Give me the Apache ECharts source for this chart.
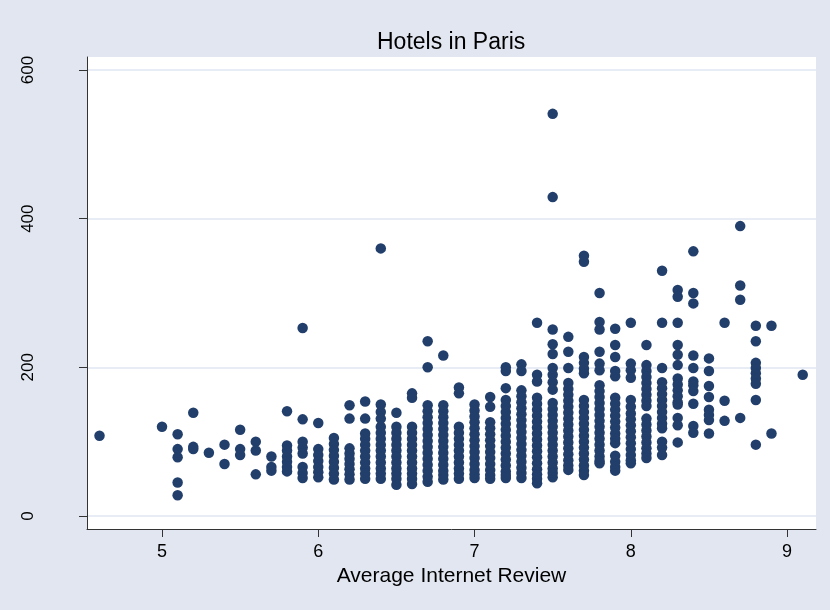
<!DOCTYPE html>
<html><head><meta charset="utf-8">
<script src="https://cdn.jsdelivr.net/npm/echarts@6/dist/echarts.min.js"></script>
<style>html,body{margin:0;padding:0;background:#E1E6F0}#c{width:830px;height:610px}</style>
</head><body><div id="c"></div>
<script>
const chartTitle = 'Hotels in Paris';
const xTitle = 'Average Internet Review';
const xTicks = [5, 6, 7, 8, 9];
const yTicks = [0, 200, 400, 600];

const ratings = [4.6, 5.0, 5.1, 5.2, 5.3, 5.4, 5.5, 5.6, 5.7, 5.8, 5.9, 6.0, 6.1, 6.2, 6.3, 6.4, 6.5, 6.6, 6.7, 6.8, 6.9,
  7.0, 7.1, 7.2, 7.3, 7.4, 7.5, 7.6, 7.7, 7.8, 7.9, 8.0, 8.1, 8.2, 8.3, 8.4, 8.5, 8.6, 8.7, 8.8, 8.9, 9.1];

const prices = [
  [108],
  [120],
  [110, 90, 79, 45, 28],
  [139, 93, 90],
  [85],
  [96, 70],
  [116, 90, 82],
  [100, 88, 56],
  [80, 66, 61],
  [141, 95, 88, 80, 73, 66, 60],
  [253, 130, 100, 92, 84, 66, 58, 51],
  [125, 90, 82, 74, 66, 59, 52],
  [105, 97, 89, 81, 73, 65, 57, 49],
  [149, 131, 91, 84, 77, 70, 63, 56, 49],
  [154, 131, 111, 104, 96, 88, 80, 72, 64, 57, 50],
  [360, 150, 140, 131, 120, 112, 104, 96, 88, 80, 72, 64, 57, 50],
  [139, 120, 112, 104, 96, 88, 80, 72, 64, 57, 50, 42],
  [165, 159, 120, 112, 104, 96, 88, 80, 72, 64, 57, 50, 43],
  [235, 200, 149, 141, 133, 125, 117, 109, 101, 93, 85, 77, 69, 61, 53, 46],
  [216, 149, 141, 133, 125, 117, 109, 101, 93, 85, 77, 69, 61, 55, 49],
  [173, 165, 120, 112, 104, 96, 88, 80, 72, 64, 57, 50],
  [150, 142, 134, 126, 118, 110, 102, 94, 86, 78, 70, 62, 56, 51],
  [160, 147, 126, 118, 110, 102, 94, 86, 78, 70, 62, 55, 50],
  [200, 195, 172, 156, 148, 140, 132, 124, 116, 108, 100, 92, 84, 76, 68, 60, 55, 51],
  [204, 195, 169, 161, 153, 145, 137, 129, 121, 113, 105, 97, 89, 81, 73, 65, 58, 51],
  [260, 190, 181, 159, 151, 143, 135, 127, 119, 111, 103, 95, 87, 79, 71, 63, 56, 50, 44],
  [541, 429, 251, 231, 218, 199, 190, 180, 170, 152, 144, 136, 128, 120, 112, 104, 96, 88, 80, 72, 64, 58, 52],
  [241, 221, 199, 179, 171, 163, 155, 147, 139, 131, 123, 115, 107, 99, 91, 83, 75, 68, 62],
  [350, 342, 214, 206, 198, 192, 156, 148, 140, 132, 124, 116, 108, 100, 92, 84, 76, 68, 61, 55],
  [300, 261, 251, 221, 205, 196, 176, 168, 160, 152, 144, 136, 128, 120, 112, 104, 96, 88, 80, 74, 71],
  [252, 230, 214, 195, 188, 159, 151, 143, 135, 127, 119, 111, 104, 98, 81, 73, 66, 61],
  [260, 205, 196, 186, 156, 147, 138, 130, 122, 114, 106, 98, 90, 82, 75, 71],
  [230, 203, 195, 187, 179, 171, 163, 155, 148, 131, 123, 115, 107, 99, 91, 84, 78],
  [330, 260, 199, 180, 172, 164, 156, 148, 140, 132, 124, 118, 100, 92, 82],
  [304, 295, 260, 230, 217, 203, 185, 177, 169, 161, 153, 150, 132, 122, 99],
  [356, 300, 286, 216, 199, 181, 176, 168, 151, 121, 112],
  [212, 195, 175, 160, 143, 136, 129, 111],
  [260, 155, 128],
  [390, 310, 291, 132],
  [256, 235, 206, 199, 192, 185, 178, 156, 96],
  [256, 111],
  [190]
];

const points = [];
ratings.forEach(function (r, i) {
  prices[i].forEach(function (p) { points.push([r, p]); });
});

const FONT = 'Liberation Sans, Arial, Helvetica, sans-serif';
const chart = echarts.init(document.getElementById('c'));
chart.setOption({
  backgroundColor: '#E1E6F0',
  animation: false,
  title: {
    text: chartTitle, left: 372, top: 26,
    textStyle: { fontFamily: FONT, fontSize: 23, fontWeight: 'normal', color: '#000' }
  },
  grid: { left: 87, right: 14, top: 57, bottom: 81, show: true, backgroundColor: '#ffffff', borderWidth: 0 },
  xAxis: {
    type: 'value', min: 4.52, max: 9.185,
    name: xTitle, nameLocation: 'middle', nameGap: 37,
    nameTextStyle: { fontFamily: FONT, fontSize: 21, color: '#000' },
    axisLine: { show: true, onZero: false, lineStyle: { color: '#333', width: 1 } },
    axisTick: { show: true, inside: false, length: 8, customValues: xTicks, lineStyle: { color: '#333', width: 1 } },
    axisLabel: { customValues: xTicks, margin: 14, fontFamily: FONT, fontSize: 18, color: '#000' },
    splitLine: { show: false }
  },
  yAxis: {
    type: 'value', min: -17.5, max: 617.5,
    axisLine: { show: true, onZero: false, lineStyle: { color: '#333', width: 1 } },
    axisTick: { show: true, inside: false, length: 8, customValues: yTicks, lineStyle: { color: '#333', width: 1 } },
    axisLabel: { customValues: yTicks, rotate: 90, margin: 50, fontFamily: FONT, fontSize: 17, color: '#000' },
    splitLine: { show: true, lineStyle: { color: '#E1E6F0', width: 1.5 } }
  },
  series: [{
    type: 'scatter', data: points, symbolSize: 10.5,
    itemStyle: { color: '#223F6C', opacity: 1 }
  }]
});
</script>
</body></html>
